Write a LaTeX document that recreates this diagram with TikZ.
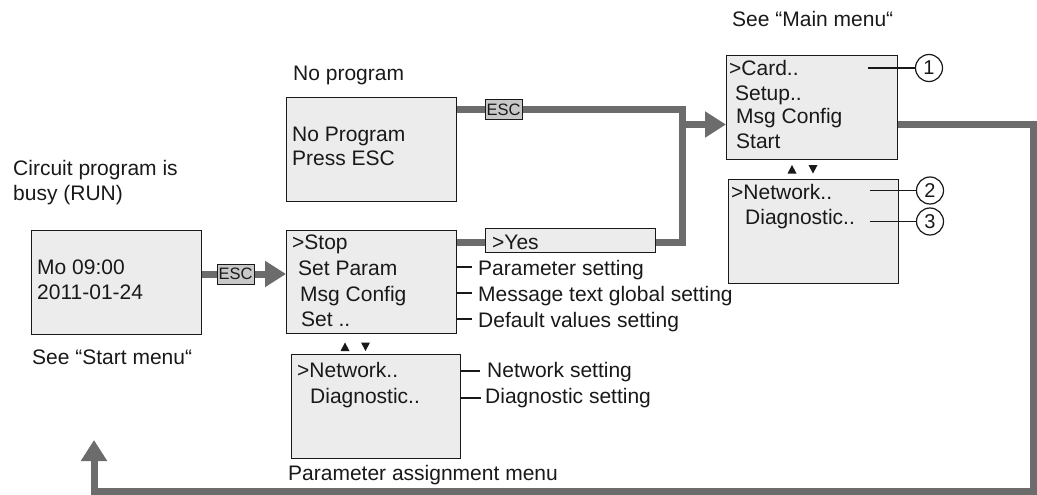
\documentclass[tikz,border=0pt]{standalone}
\usepackage{fontspec}
\setmainfont{Liberation Sans}
\usetikzlibrary{arrows.meta}
\definecolor{boxfill}{RGB}{236,236,236}
\definecolor{flowgray}{RGB}{108,108,108}
\definecolor{escfill}{RGB}{200,200,200}
\definecolor{ink}{RGB}{25,25,25}
\begin{document}
\begin{tikzpicture}[x=1pt,y=-1pt,
 txt/.style={anchor=base west, inner sep=0pt, text=ink, font=\fontsize{21}{25}\selectfont},
 screen/.style={draw=ink, line width=1.3pt, fill=boxfill, anchor=north west, inner sep=0pt},
 flow/.style={draw=flowgray, line width=7pt, line join=miter},
 tip/.style={-{Triangle[length=21pt,width=25pt]}},
 esckey/.style={draw=ink, line width=1pt, fill=escfill, minimum width=37pt, minimum height=20pt, inner sep=0pt, font=\fontsize{16.5}{18}\selectfont, text=ink},
 leader/.style={draw=ink, line width=1.5pt},
 num/.style={circle, draw=ink, line width=1.2pt, minimum size=27pt, inner sep=0pt, fill=white, font=\fontsize{20}{22}\selectfont, text=ink},
 ]
\useasboundingbox (0,0) rectangle (1037,495);

% screens
\node[screen, minimum width=170pt, minimum height=104pt] (run) at (31,230) {};
\node[screen, minimum width=170pt, minimum height=104pt] (np) at (286,97) {};
\node[screen, minimum width=170pt, minimum height=103pt] (stop) at (286,230) {};
\node[screen, minimum width=170pt, minimum height=24pt] (yes) at (485,228) {};
\node[screen, minimum width=169pt, minimum height=104pt] (param) at (291,354) {};
\node[screen, minimum width=171pt, minimum height=104pt] (card) at (726,55) {};
\node[screen, minimum width=170pt, minimum height=104pt] (net) at (728,179) {};

% flows
\coordinate (escA) at (0,274);
\draw[flow,tip] (run.east |- escA) -- (stop.west |- escA);
\node[esckey] (k1) at (235.5,274) {ESC};

\coordinate (jt) at (682,109.5);
\coordinate (jb) at (682,242);
\coordinate (jm) at (682,124.5);
\draw[flow] (np.east |- jt) -- (jt) -- (jb) -- (yes.east |- jb);
\draw[flow] (stop.east |- jb) -- (yes.west |- jb);
\draw[flow,tip] (jm) -- (card.west |- jm);
\node[esckey] (k2) at (503.5,109.5) {ESC};

\coordinate (rt) at (1033.5,124.5);
\coordinate (rb) at (1033.5,491.5);
\coordinate (lb) at (94,491.5);
\coordinate (ret) at (94,440);
\draw[flow,tip] (card.east |- rt) -- (rt) -- (rb) -- (lb) -- (ret);

% texts in screens
\node[txt] (ra) at (37,274) {Mo 09:00};
\node[txt] (rb2) at (37,299) {2011-01-24};
\node[txt] (na) at (292,141) {No Program};
\node[txt] (nb) at (292,165) {Press ESC};
\node[txt] (sa) at (292,249) {>Stop};
\node[txt] (sb) at (298,275) {Set Param};
\node[txt] (sc) at (300,301) {Msg Config};
\node[txt] (sd) at (301,326) {Set ..};
\node[txt] (ya) at (492,249) {>Yes};
\node[txt] (pa) at (297,377) {>Network..};
\node[txt] (pb) at (310,403) {Diagnostic..};
\node[txt] (ca) at (729,76) {>Card..};
\node[txt] (cb) at (735,101) {Setup..};
\node[txt] (cc) at (736,124) {Msg Config};
\node[txt] (cd) at (736,148) {Start};
\node[txt] (nta) at (731,199) {>Network..};
\node[txt] (ntb) at (745,224) {Diagnostic..};

% captions
\node[txt] (cap1) at (13,175) {Circuit program is};
\node[txt] (cap2) at (13,200) {busy (RUN)};
\node[txt] (cap3) at (32,364) {See “Start menu“};
\node[txt] (cap4) at (293,81) {No program};
\node[txt] (cap5) at (732,27) {See “Main menu“};
\node[txt] (cap6) at (288,480) {Parameter assignment menu};

% leader labels
\coordinate (l1) at (472,267);
\coordinate (l2) at (472,293);
\coordinate (l3) at (472,319);
\coordinate (l4) at (480,371);
\coordinate (l5) at (481,398);
\draw[leader] (stop.east |- l1) -- (l1);
\draw[leader] (stop.east |- l2) -- (l2);
\draw[leader] (stop.east |- l3) -- (l3);
\draw[leader] (param.east |- l4) -- (l4);
\draw[leader] (param.east |- l5) -- (l5);
\node[txt] (la) at (478,275) {Parameter setting};
\node[txt] (lb3) at (478,301) {Message text global setting};
\node[txt] (lc) at (478,327) {Default values setting};
\node[txt] (ld) at (487,377) {Network setting};
\node[txt] (le) at (485,403) {Diagnostic setting};

% numbered callouts
\node[num] (c1) at (929,68) {1};
\node[num] (c2) at (930,190.5) {2};
\node[num] (c3) at (930,221.5) {3};
\coordinate (p1) at (868,68);
\coordinate (p2) at (870,190.5);
\coordinate (p3) at (870,221.5);
\draw[ink, line width=1.3pt] (p1) -- (c1.west);
\draw[ink, line width=1.3pt] (p2) -- (c2.west);
\draw[ink, line width=1.3pt] (p3) -- (c3.west);

% scroll marks
\fill[ink] (787.5,173.5) -- (796.5,173.5) -- (792,165) -- cycle;
\fill[ink] (808.5,165) -- (817.5,165) -- (813,173.5) -- cycle;
\fill[ink] (340.5,351) -- (349.5,351) -- (345,342.5) -- cycle;
\fill[ink] (361,342.5) -- (370,342.5) -- (365.5,351) -- cycle;
\end{tikzpicture}
\end{document}
